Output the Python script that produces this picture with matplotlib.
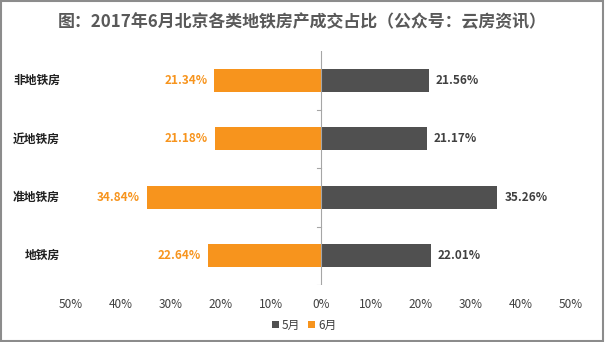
import numpy as np
import matplotlib.pyplot as plt
from matplotlib.patches import Rectangle

plt.rcParams['font.family'] = ['Noto Sans CJK SC', 'DejaVu Sans']

# 数据
categories = ['非地铁房', '近地铁房', '准地铁房', '地铁房']
may = [21.56, 21.17, 35.26, 22.01]
june = [21.34, 21.18, 34.84, 22.64]
ticks = [-50, -40, -30, -20, -10, 0, 10, 20, 30, 40, 50]

gray = '#505050'
orange = '#F7941D'

fig = plt.figure(figsize=(6.05, 3.42), dpi=100)
ax = fig.add_axes([71 / 605, 1 - 285 / 342, 500 / 605, 234 / 342])

y = np.arange(len(categories))
ax.barh(y, may, height=0.39, color=gray, label='5月')
ax.barh(y, [-v for v in june], height=0.39, color=orange, label='6月')

for i in y:
    ax.text(may[i] + 1.4, i, '%.2f%%' % may[i], va='center', ha='left',
            color='#404040', fontsize=8.5, fontweight='bold')
    ax.text(-june[i] - 1.4, i, '%.2f%%' % june[i], va='center', ha='right',
            color=orange, fontsize=8.5, fontweight='bold')
    ax.text(-0.022, i, categories[i], transform=ax.get_yaxis_transform(),
            va='center', ha='right', color='#202020', fontsize=8.5, fontweight='bold')

ax.set_xlim(-50, 50)
ax.set_ylim(len(categories) - 0.5, -0.5)
ax.set_xticks(ticks)
ax.set_xticklabels(['%d%%' % abs(t) for t in ticks], fontsize=8.5, color='#404040')
ax.tick_params(axis='x', length=0, pad=9)
ax.set_yticks([])
for s in ['top', 'right', 'bottom', 'left']:
    ax.spines[s].set_visible(False)
# 中间竖轴
ax.axvline(0, color='#A6A6A6', lw=0.8)
for b in [0.5, 1.5, 2.5, 3.5]:
    ax.plot([-0.8, 0], [b, b], color='#A6A6A6', lw=0.8)

fig.text(0.5, 1 - 22 / 342, '图：2017年6月北京各类地铁房产成交占比（公众号：云房资讯）',
         ha='center', va='center', fontsize=12.2, fontweight='bold', color='#595959')

fig.legend(loc='center', bbox_to_anchor=(304 / 605, 1 - 325 / 342), ncol=2, frameon=False,
           fontsize=8.5, handlelength=0.6, handleheight=0.6, handletextpad=0.3,
           columnspacing=0.6, labelcolor='#404040')

fig.patches.append(Rectangle((0.002, 0.003), 0.995, 0.994, transform=fig.transFigure,
                             fill=False, edgecolor='#8C8C8C', lw=1.5))
plt.savefig('out.png', dpi=100)
